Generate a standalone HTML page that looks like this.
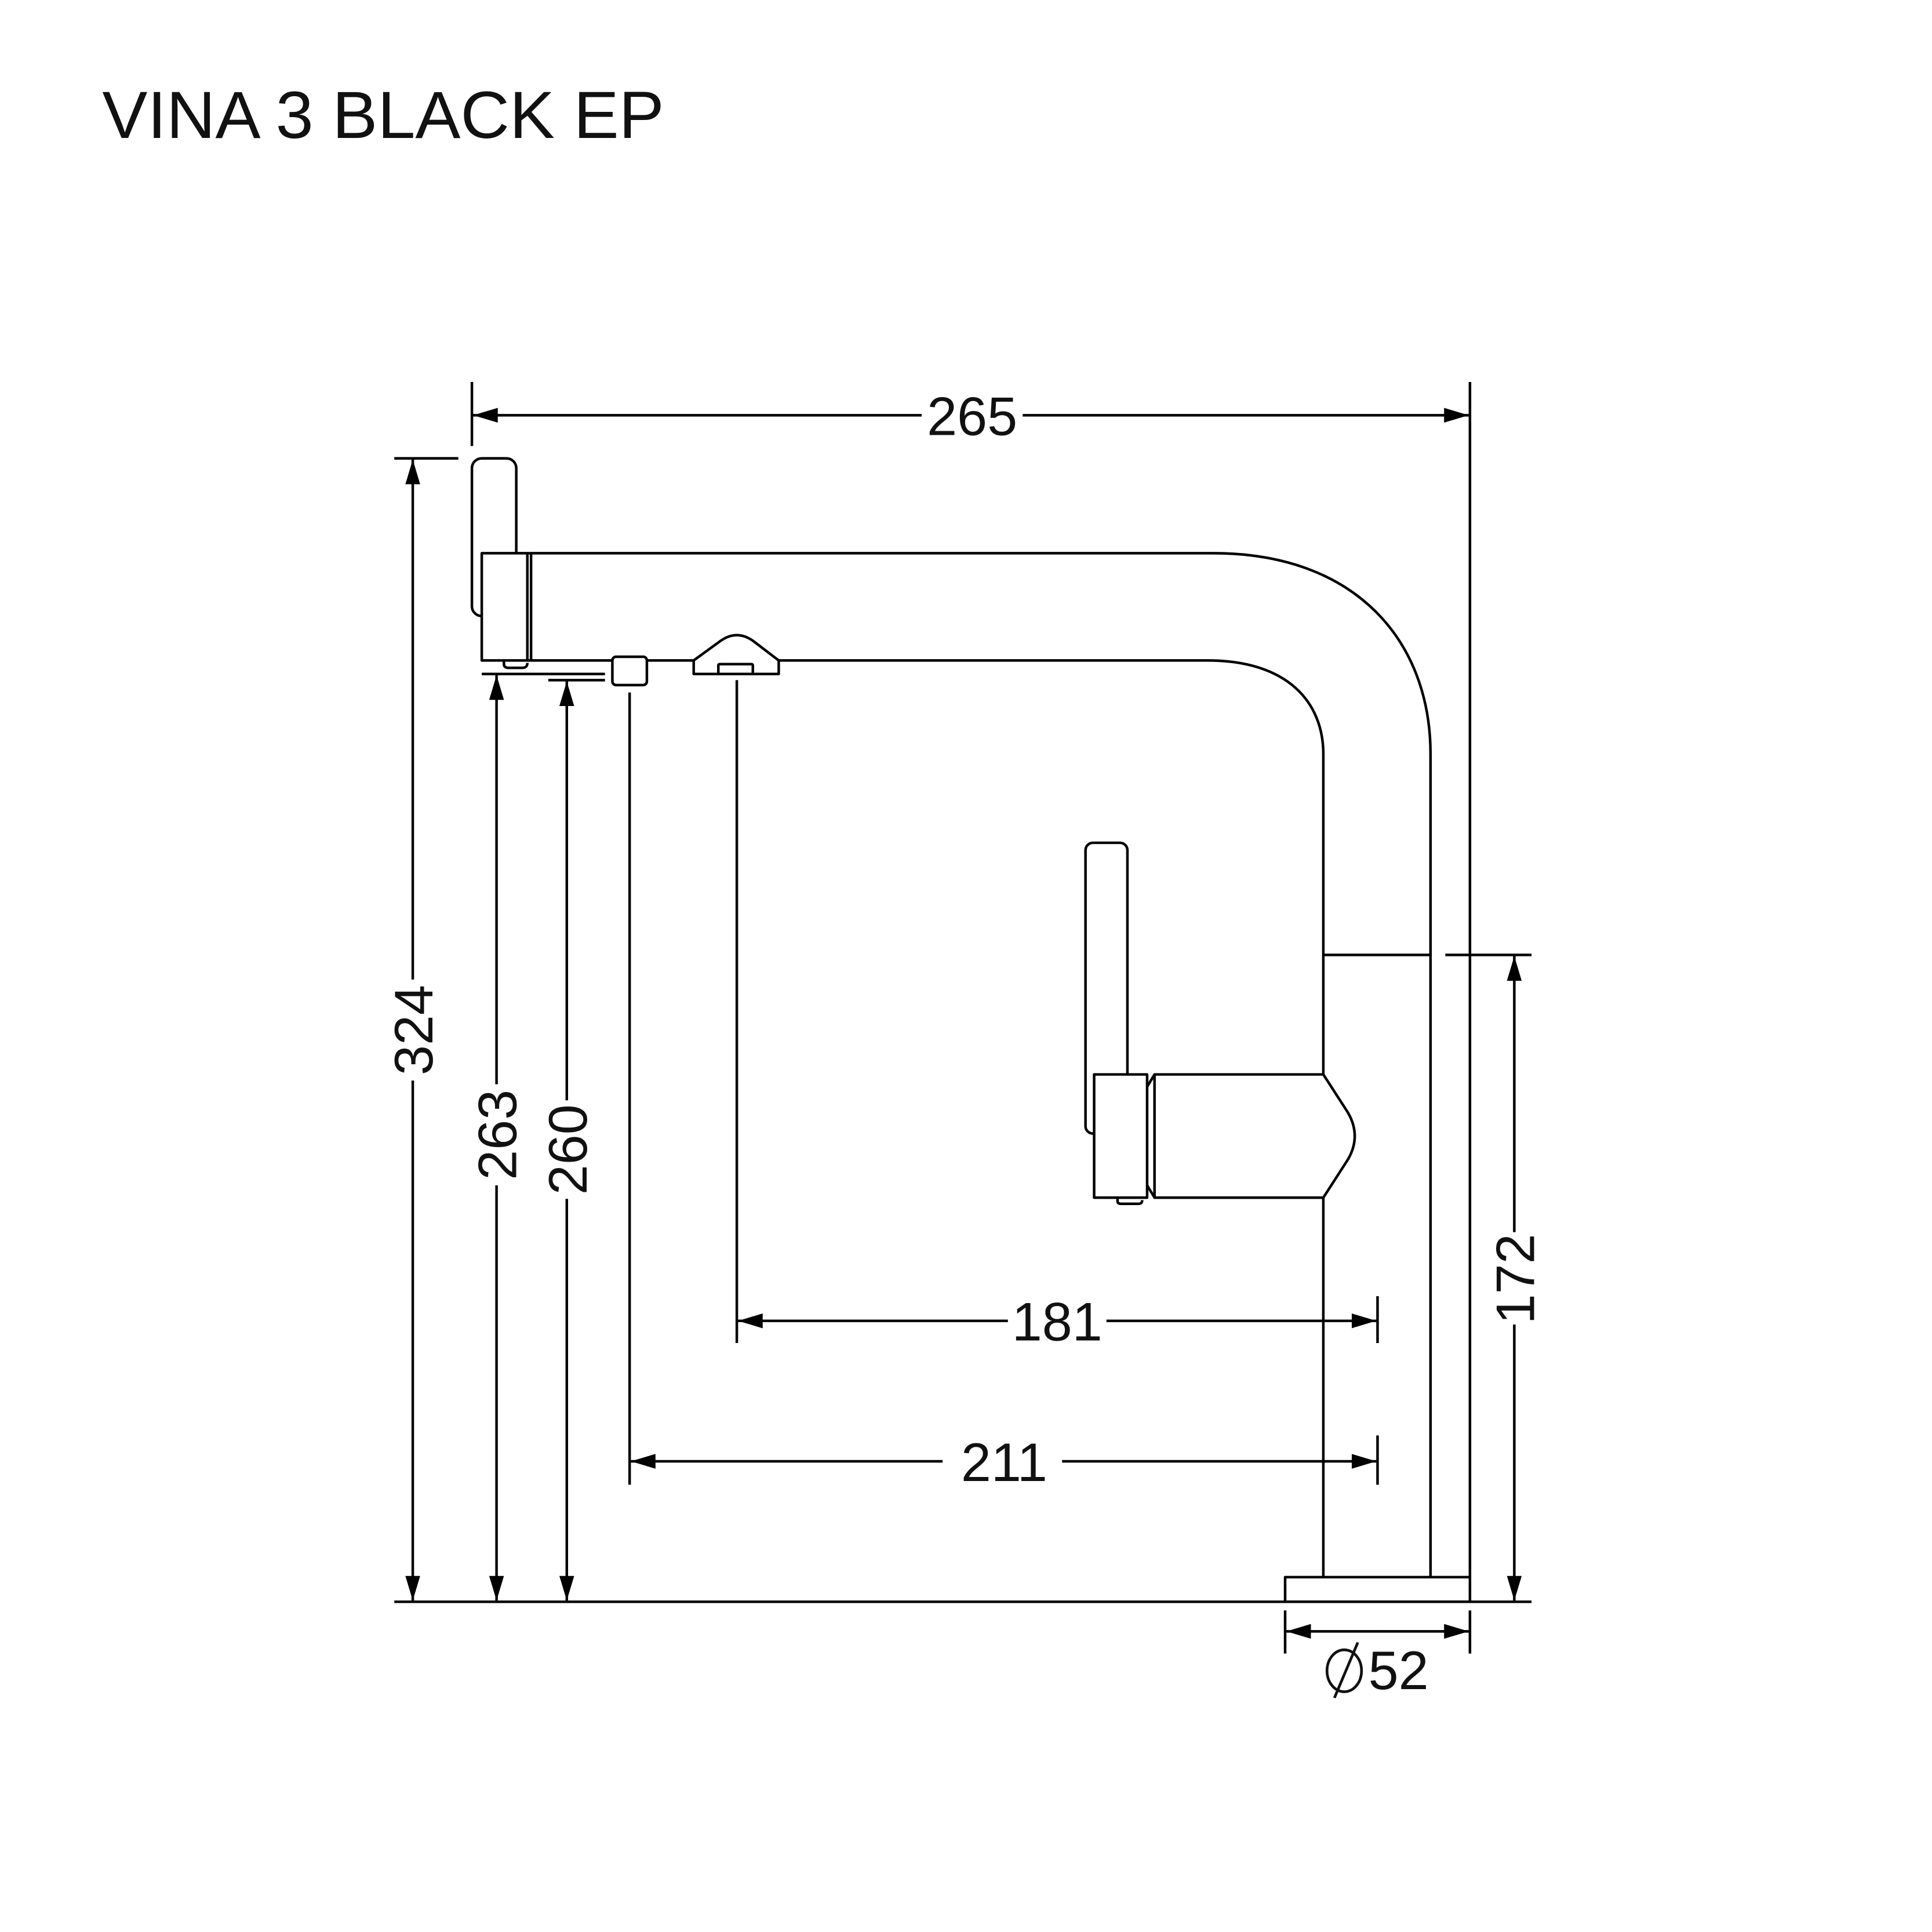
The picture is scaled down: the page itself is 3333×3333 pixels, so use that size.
<!DOCTYPE html>
<html><head><meta charset="utf-8"><style>html,body{margin:0;padding:0;background:#fff}svg{display:block}</style></head>
<body>
<svg width="3333" height="3333" viewBox="0 0 1568 1568" xmlns="http://www.w3.org/2000/svg">
<defs>
<marker id="a" viewBox="0 0 20 12" refX="20" refY="6" markerWidth="20" markerHeight="12" markerUnits="userSpaceOnUse" orient="auto-start-reverse">
<path d="M0,0 L20,6 L0,12 Z" fill="#000"/></marker>
</defs>
<rect width="1568" height="1568" fill="#fff"/>
<text x="83" y="112" font-family="Liberation Sans, sans-serif" font-size="54" fill="#111" textLength="456" lengthAdjust="spacingAndGlyphs">VINA 3 BLACK EP</text>
<g fill="none" stroke="#000" stroke-width="2.1" stroke-linejoin="round">
<path d="M430,449 L985,449 C1100,449 1161,520 1161,612 L1161,1280"/>
<path d="M632,536 L980,536 C1045,536 1074,570 1074,612 L1074,872"/>
<path d="M431,536 L497,536 M525,536 L563,536"/>
<rect x="383" y="372" width="36" height="128" rx="8"/>
<rect x="391" y="449" width="40" height="87" fill="#fff"/>
<line x1="428" y1="449" x2="428" y2="536"/>
<path d="M409,536 L409,539 Q409,542 413,542 L424,542 Q428,542 428,538"/>
<rect x="497" y="533" width="28" height="23" rx="3" fill="#fff"/>
<path d="M563,536 L585,520 Q598,511 611,520 L632,536 L632,547 L563,547 Z" fill="#fff"/>
<rect x="583" y="539" width="28" height="8" rx="1"/>
<rect x="881" y="684" width="34" height="236" rx="6"/>
<rect x="888" y="872" width="43" height="100" fill="#fff"/>
<path d="M907,972 L907,975 Q907,977 910,977 L924,977 Q927,977 927,974"/>
<path d="M931,882 L937,872 M931,962 L937,972"/>
<path d="M937,872 L1074,872 L1094,903 Q1105,922 1094,941 L1074,972 L937,972 Z"/>
<line x1="1074" y1="972" x2="1074" y2="1280"/>
<line x1="1074" y1="775" x2="1161" y2="775"/>
<rect x="1043" y="1280" width="150" height="20"/>
<line x1="320" y1="1300" x2="1243" y2="1300"/>
<line x1="383" y1="310" x2="383" y2="362"/>
<line x1="1193" y1="310" x2="1193" y2="1280"/>
<line x1="320" y1="372" x2="372" y2="372"/>
<line x1="391" y1="547" x2="491" y2="547"/>
<line x1="445" y1="552" x2="491" y2="552"/>
<line x1="511" y1="562" x2="511" y2="1205"/>
<line x1="598" y1="552" x2="598" y2="1090"/>
<line x1="1118" y1="1052" x2="1118" y2="1090"/>
<line x1="1118" y1="1165" x2="1118" y2="1205"/>
<line x1="1173" y1="775" x2="1243" y2="775"/>
<line x1="1043" y1="1307" x2="1043" y2="1342"/>
<line x1="1193" y1="1307" x2="1193" y2="1342"/>
<path d="M748,337 L384,337" marker-end="url(#a)"/>
<path d="M830,337 L1192,337" marker-end="url(#a)"/>
<path d="M335,795 L335,373" marker-end="url(#a)"/>
<path d="M335,877 L335,1299" marker-end="url(#a)"/>
<path d="M403,880 L403,548" marker-end="url(#a)"/>
<path d="M403,962 L403,1299" marker-end="url(#a)"/>
<path d="M460,893 L460,553" marker-end="url(#a)"/>
<path d="M460,973 L460,1299" marker-end="url(#a)"/>
<path d="M1229,1000 L1229,776" marker-end="url(#a)"/>
<path d="M1229,1075 L1229,1299" marker-end="url(#a)"/>
<path d="M818,1072 L599,1072" marker-end="url(#a)"/>
<path d="M898,1072 L1117,1072" marker-end="url(#a)"/>
<path d="M765,1186 L512,1186" marker-end="url(#a)"/>
<path d="M862,1186 L1117,1186" marker-end="url(#a)"/>
<path d="M1118,1324 L1044,1324" marker-end="url(#a)"/>
<path d="M1118,1324 L1192,1324" marker-end="url(#a)"/>
</g>
<g font-family="Liberation Sans, sans-serif" font-size="44" fill="#111" text-anchor="middle">
<text x="789" y="353">265</text>
<text x="858" y="1088">181</text>
<text x="815" y="1202">211</text>
<text transform="translate(351,836) rotate(-90)">324</text>
<text transform="translate(419,921) rotate(-90)">263</text>
<text transform="translate(476,933) rotate(-90)">260</text>
<text transform="translate(1245,1038) rotate(-90)">172</text>
<text x="1135" y="1371">52</text>
</g>
<g fill="none" stroke="#111" stroke-width="2.2">
<ellipse cx="1091" cy="1356" rx="14" ry="17"/>
<line x1="1102" y1="1333" x2="1083" y2="1378"/>
</g>
</svg>
</body></html>
